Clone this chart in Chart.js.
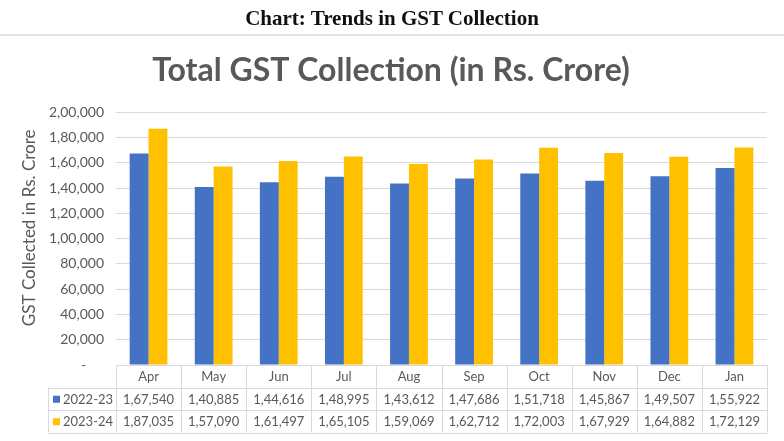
<!DOCTYPE html>
<html>
<head>
<meta charset="utf-8">
<script src="https://cdn.jsdelivr.net/npm/chart.js@4/dist/chart.umd.min.js"></script>
<style>
  body { margin: 0; background: #fff; }
  #wrap { position: relative; width: 784px; height: 441px; overflow: hidden; }
  #head {
    position: absolute; top: 6px; left: 0; width: 784px; text-align: center;
    font: bold 21px "Liberation Serif", "Times New Roman", serif; color: #111;
  }
  #rule { position: absolute; top: 34px; left: 0; width: 784px; height: 2px; background: #e4e4e4; }
  #box { position: absolute; top: 0; left: 0; width: 784px; height: 441px; }
</style>
</head>
<body>
<div id="wrap">
  <div id="box"><canvas id="gstChart"></canvas></div>
  <div id="head">Chart: Trends in GST Collection</div>
  <div id="rule"></div>
</div>
<script>
// months and collections (Rs. Crore)
const months = ['Apr', 'May', 'Jun', 'Jul', 'Aug', 'Sep', 'Oct', 'Nov', 'Dec', 'Jan'];
const fy2223 = [167540, 140885, 144616, 148995, 143612, 147686, 151718, 145867, 149507, 155922];
const fy2324 = [187035, 157090, 161497, 165105, 159069, 162712, 172003, 167929, 164882, 172129];
const seriesNames = ['2022-23', '2023-24'];
const yTicks = [0, 20000, 40000, 60000, 80000, 100000, 120000, 140000, 160000, 180000, 200000];

const BLUE = '#4472C4';
const GOLD = '#FFC000';
const TEXT = '#595959';
const GRID = '#d9d9d9';

// Indian digit grouping: 1,67,540
function fmtIN(n) {
    let s = String(Math.round(n));
    if (s.length <= 3) return s;
    let last = s.slice(-3);
    let rest = s.slice(0, -3);
    rest = rest.replace(/\B(?=(\d{2})+(?!\d))/g, ',');
    return rest + ',' + last;
}

// draws the data table under the plot, like Excel's "data table" option
const dataTable = {
    id: 'dataTable',
    afterDraw(chart) {
        const ctx = chart.ctx;
        const a = chart.chartArea;
        const x = chart.scales.x;
        const n = months.length;
        const w = a.width / n;
        const rowH = 22.5;
        const top = a.bottom;
        const r1 = top + rowH, r2 = r1 + rowH, r3 = r2 + rowH;
        const keyLeft = 48;

        ctx.save();
        ctx.strokeStyle = GRID;
        ctx.lineWidth = 1;
        ctx.beginPath();
        [r1, r2, r3].forEach(y => {
            ctx.moveTo(keyLeft, Math.round(y) + 0.5);
            ctx.lineTo(a.right, Math.round(y) + 0.5);
        });
        for (let i = 0; i <= n; i++) {
            const xb = Math.round(a.left + i * w) + 0.5;
            ctx.moveTo(xb, top);
            ctx.lineTo(xb, r3);
        }
        ctx.moveTo(keyLeft + 0.5, r1);
        ctx.lineTo(keyLeft + 0.5, r3);
        ctx.stroke();

        ctx.fillStyle = TEXT;
        ctx.font = '13px Lato';
        ctx.textAlign = 'center';
        ctx.textBaseline = 'middle';
        months.forEach((m, i) => {
            const cx = x.getPixelForValue(i);
            ctx.fillText(m, cx, top + rowH / 2 + 1);
            ctx.fillText(fmtIN(fy2223[i]), cx, r1 + rowH / 2 + 1);
            ctx.fillText(fmtIN(fy2324[i]), cx, r2 + rowH / 2 + 1);
        });

        // legend keys
        ctx.textAlign = 'left';
        [[BLUE, r1], [GOLD, r2]].forEach(([c, y], k) => {
            ctx.fillStyle = c;
            ctx.fillRect(keyLeft + 5, y + rowH / 2 - 3, 7, 7);
            ctx.fillStyle = TEXT;
            ctx.fillText(seriesNames[k], keyLeft + 15, y + rowH / 2 + 1);
        });
        ctx.restore();
    }
};

const ctx = document.getElementById('gstChart').getContext('2d');
const gstChart = new Chart(ctx, {
    type: 'bar',
    data: {
        labels: months,
        datasets: [{
            label: seriesNames[0],
            data: fy2223,
            backgroundColor: BLUE
        }, {
            label: seriesNames[1],
            data: fy2324,
            backgroundColor: GOLD
        }]
    },
    options: {
        responsive: true,
        maintainAspectRatio: false,
        animation: false,
        layout: {
            padding: { top: 40, left: 15, right: 17, bottom: 76 }
        },
        datasets: {
            bar: { categoryPercentage: 0.58, barPercentage: 1.0 }
        },
        plugins: {
            legend: { display: false },
            tooltip: { enabled: false },
            title: {
                display: true,
                text: 'Total GST Collection (in Rs. Crore)',
                color: TEXT,
                font: { family: 'Lato', size: 32, weight: 'bold' },
                padding: { top: 11, bottom: 23 }
            }
        },
        scales: {
            x: {
                display: false
            },
            y: {
                min: 0,
                max: 200000,
                afterBuildTicks: scale => {
                    scale.ticks = yTicks.map(v => ({ value: v }));
                },
                afterFit: scale => {
                    scale.width = 101;
                },
                border: { display: false },
                grid: { color: GRID, drawTicks: false },
                ticks: {
                    color: TEXT,
                    padding: 12,
                    font: { family: 'Lato', size: 14 },
                    callback: v => v === 0 ? '-     ' : fmtIN(v)
                },
                title: {
                    display: true,
                    // leading spaces nudge the rotated title up a little, as in the original
                    text: '     GST Collected in Rs. Crore',
                    color: TEXT,
                    font: { family: 'Lato', size: 17 },
                    padding: { top: 4, bottom: 0 }
                }
            }
        }
    },
    plugins: [dataTable]
});
</script>
</body>
</html>
